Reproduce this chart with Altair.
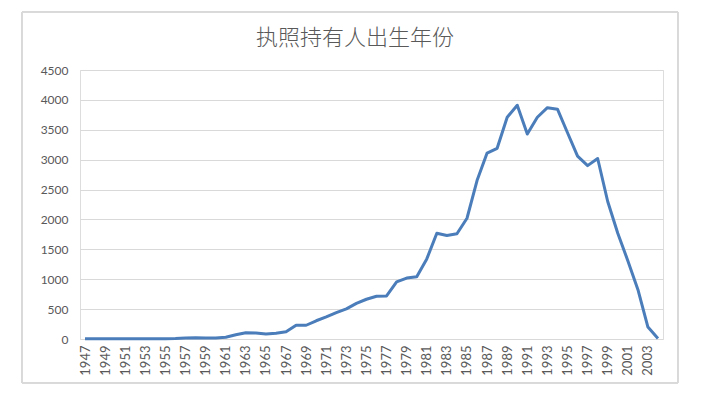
import altair as alt
import pandas as pd

years = list(range(1947, 2005))
counts = [5, 5, 5, 5, 5, 5, 5, 5, 5, 8,
          15, 20, 15, 15, 30, 70, 105, 100, 85, 95,
          120, 230, 230, 305, 370, 440, 505, 595, 665, 715,
          720, 955, 1020, 1040, 1340, 1770, 1730, 1760, 2020, 2650,
          3110, 3190, 3710, 3910, 3430, 3710, 3870, 3845, 3450, 3060,
          2900, 3020, 2300, 1770, 1310, 830, 200, 10]
y_ticks = [0, 500, 1000, 1500, 2000, 2500, 3000, 3500, 4000, 4500]
title_text = "执照持有人出生年份"

df = pd.DataFrame({"year": years, "count": counts})
label_years = [y for y in years if (y - 1947) % 2 == 0]

font = "Lato"

line = alt.Chart(df).mark_line(color="#4A7DBA", strokeWidth=3, strokeJoin="round").encode(
    x=alt.X("year:O", scale=alt.Scale(type="point", padding=0.5),
            axis=alt.Axis(title=None, values=label_years, labelAngle=-90,
                          labelAlign="right", labelBaseline="middle",
                          labelPadding=6, ticks=False, domain=False, grid=False,
                          labelFont=font, labelFontSize=13, labelColor="#595959")),
    y=alt.Y("count:Q", scale=alt.Scale(domain=[0, 4500], nice=False),
            axis=alt.Axis(title=None, values=y_ticks, format="d", ticks=False, domain=False,
                          gridColor="#d9d9d9", gridWidth=1, labelPadding=12,
                          labelFont=font, labelFontSize=12, labelColor="#595959")),
)

border = alt.Chart(df).mark_rect(fill=None, stroke="#d9d9d9", strokeWidth=1).encode(
    x=alt.value(-58), x2=alt.value(598), y=alt.value(-58), y2=alt.value(313)
)

title = alt.Chart(pd.DataFrame({"t": [title_text]})).mark_text(
    font="Noto Sans CJK SC", fontSize=22, fontWeight=300, color="#595959",
    align="center", baseline="middle"
).encode(text="t:N", x=alt.value(275), y=alt.value(-32))

chart = alt.layer(border, line, title).properties(
    width=583, height=269,
    autosize=alt.AutoSizeParams(type="none"),
    padding={"left": 72, "top": 62, "right": 20, "bottom": 56},
).configure_view(stroke=None).configure(background="white")

chart.save("out.html", embed_options={"renderer": "svg", "actions": False})
